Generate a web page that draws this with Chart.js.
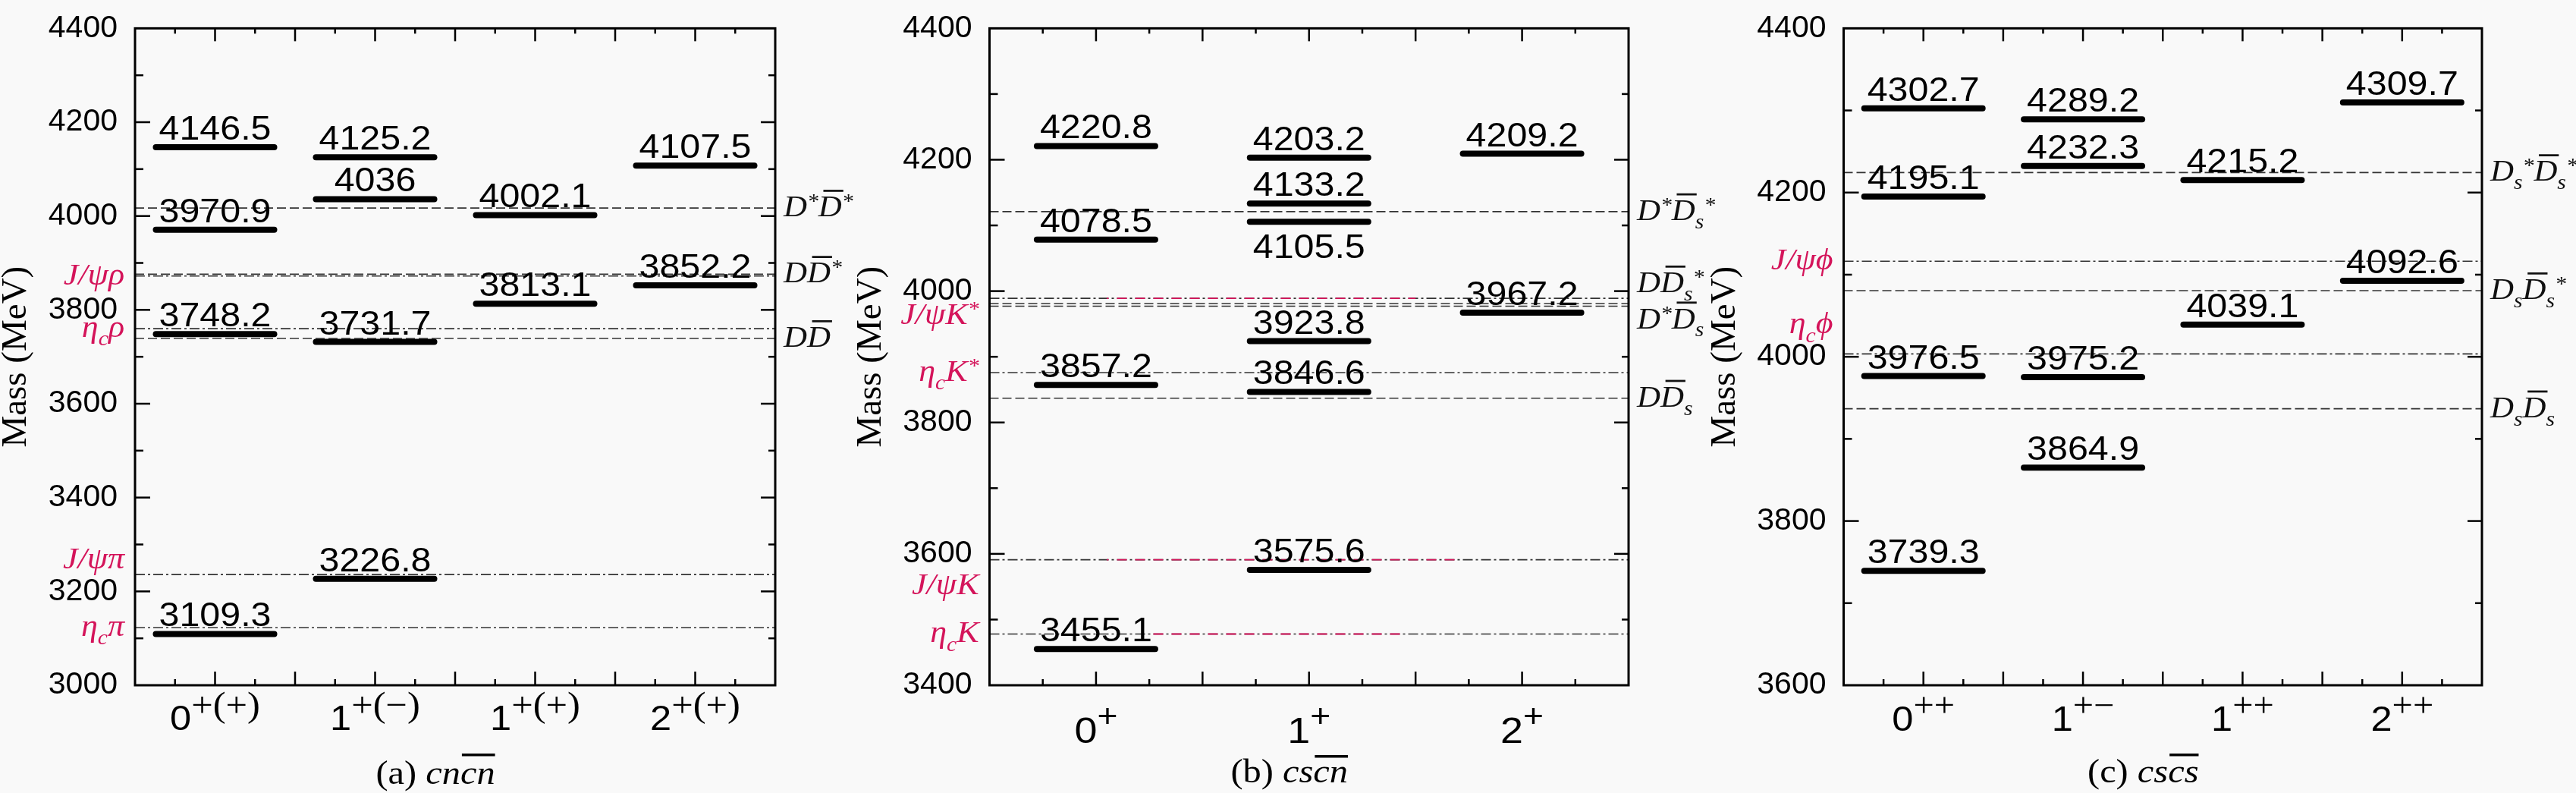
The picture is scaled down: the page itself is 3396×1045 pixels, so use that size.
<!DOCTYPE html>
<html><head><meta charset="utf-8">
<script src="https://cdn.jsdelivr.net/npm/chart.js@4.4.0/dist/chart.umd.min.js"></script>
<style>
html,body{margin:0;padding:0;background:#f9f9f9;}
#wrap{position:relative;width:3396px;height:1045px;overflow:hidden;background:#f9f9f9;}
.pan{position:absolute;top:0;height:1045px;}
canvas{display:block;}
</style></head><body><div id="wrap">
<div class="pan" style="left:0px;width:1165px"><canvas id="cA" width="1165" height="1045"></canvas></div>
<div class="pan" style="left:1130px;width:1165px"><canvas id="cB" width="1165" height="1045"></canvas></div>
<div class="pan" style="left:2250px;width:1146px"><canvas id="cC" width="1146" height="1045"></canvas></div>
</div>
<script>
// ---------------- DATA ----------------
// Panel (a) c n c̄ n̄
const catsA   = ['0', '1', '1', '2'];
const catSupA = ['+(+)', '+(\u2212)', '+(+)', '+(+)'];
const massA = [
  [3109.3, 3748.2, 3970.9, 4146.5],
  [3226.8, 3731.7, 4036, 4125.2],
  [3813.1, 4002.1],
  [3852.2, 4107.5]
];
const thrNameA = ['D|^*|~D|^*', 'D|~D|^*', 'D|~D', 'J/\u03C8\u03C1', '\u03B7|_c|\u03C1', 'J/\u03C8\u03C0', '\u03B7|_c|\u03C0'];
const thrMassA = [4017, 3876, 3739, 3872, 3760, 3236, 3123];
const yRangeA  = [3000, 4400];

// Panel (b) c s c̄ n̄
const catsB   = ['0', '1', '2'];
const catSupB = ['+', '+', '+'];
const massB = [
  [3455.1, 3857.2, 4078.5, 4220.8],
  [3575.6, 3846.6, 3923.8, 4105.5, 4133.2, 4203.2],
  [3967.2, 4209.2]
];
const thrNameB = ['D|^*|~D|_s|^*', 'D|~D|_s|^*', 'D|^*|~D|_s', 'D|~D|_s', 'J/\u03C8K|^*', '\u03B7|_c|K|^*', 'J/\u03C8K', '\u03B7|_c|K'];
const thrMassB = [4121, 3981, 3977, 3837, 3989, 3876, 3591, 3478];
const yRangeB  = [3400, 4400];
const labelBelowB = [4105.5];

// Panel (c) c s c̄ s̄
const catsC   = ['0', '1', '1', '2'];
const catSupC = ['++', '+\u2212', '++', '++'];
const massC = [
  [3739.3, 3976.5, 4195.1, 4302.7],
  [3864.9, 3975.2, 4232.3, 4289.2],
  [4039.1, 4215.2],
  [4092.6, 4309.7]
];
const thrNameC = ['D|_s|^*|~D|_s|^*', 'D|_s|~D|_s|^*', 'D|_s|~D|_s', 'J/\u03C8\u03D5', '\u03B7|_c|\u03D5'];
const thrMassC = [4224.4, 4080.5, 3936.7, 4116.4, 4003.5];
const yRangeC  = [3600, 4400];

// ---------------- STYLE / LAYOUT ----------------
const SANS  = '"Liberation Sans", Arial, Helvetica, sans-serif';
const SERIF = '"Liberation Serif", "Times New Roman", Times, serif';
const SX = 1.1;           // horizontal stretch of text in the reference
const RED = '#d4145a';
const TOP = 16, BOTTOM = 903, H = 1045;

const panels = [
  { id:'cA', W:1165, L:178,   R:1022, xMax:8, cats:catsA, sups:catSupA, mass:massA,
    thrName:thrNameA, thrMass:thrMassA, yr:yRangeA, below:[],
    side:['R','R','R','L','L','L','L'], dash:['d','d','d','dd','dd','dd','dd'], dy:[0,0,0,0,0,-19,0],
    red:[], catMainF:46, catSupFam:SERIF, catSupF:46, catRaise:18, catBase:962,
    cap:['(a) ', 'cn', 'cn'], capBase:1033, capBar:993 },
  { id:'cB', W:1165, L:174.5, R:1017, xMax:6, cats:catsB, sups:catSupB, mass:massB,
    thrName:thrNameB, thrMass:thrMassB, yr:yRangeB, below:labelBelowB,
    side:['R','R','R','R','L','L','L','L'], dash:['d','d','d','d','dd','dd','dd','dd'], dy:[0,-26,18,0,23,0,34,0],
    red:[[4,1.1,4.0],[6,1.1,4.4],[7,1.5,3.9]], catMainF:49, catSupFam:SANS, catSupF:42, catRaise:21, catBase:979,
    cap:['(b) ', 'cs', 'cn'], capBase:1031, capBar:995 },
  { id:'cC', W:1146, L:180.5, R:1022, xMax:8, cats:catsC, sups:catSupC, mass:massC,
    thrName:thrNameC, thrMass:thrMassC, yr:yRangeC, below:[],
    side:['R','R','R','L','L'], dash:['d','d','d','dd','dd'], dy:[0,0,0,0,-38],
    red:[], catMainF:46, catSupFam:SERIF, catSupF:44, catRaise:19, catBase:963,
    cap:['(c) ', 'cs', 'cs'], capBase:1031, capBar:993 }
];

const DASH = [12, 5];
const DASHDOT = [13, 4, 3, 4];
const LEVEL_HALF_PX = 78;

// ---------------- TEXT HELPERS ----------------
function txt(ctx, s, x, y, font, color, align) {
  ctx.save();
  ctx.font = font; ctx.fillStyle = color; ctx.textBaseline = 'alphabetic'; ctx.textAlign = 'left';
  const w = ctx.measureText(s).width * SX;
  const x0 = align === 'center' ? x - w / 2 : (align === 'right' ? x - w : x);
  ctx.translate(x0, y); ctx.scale(SX, 1); ctx.fillText(s, 0, 0);
  ctx.restore();
  return w;
}
function parseRich(s) {
  return s.split('|').map(p => {
    if (p[0] === '^') return { t: p.slice(1), k: 'sup' };
    if (p[0] === '_') return { t: p.slice(1), k: 'sub' };
    if (p[0] === '~') return { t: p.slice(1), k: 'bar' };
    return { t: p, k: 'n' };
  });
}
function drawRich(ctx, str, x, y, F, color, align) {
  const segs = parseRich(str);
  ctx.save();
  ctx.textBaseline = 'alphabetic'; ctx.textAlign = 'left';
  const fontFor = k => (k === 'sup' || k === 'sub') ? `italic ${Math.round(F * 0.68)}px ${SERIF}` : `italic ${F}px ${SERIF}`;
  let w = 0;
  segs.forEach(s => { ctx.font = fontFor(s.k); s.w = ctx.measureText(s.t).width * SX; w += s.w; });
  let cx = align === 'right' ? x - w : x;
  ctx.fillStyle = color;
  segs.forEach(s => {
    ctx.font = fontFor(s.k);
    const d = s.k === 'sup' ? -0.28 * F : (s.k === 'sub' ? 0.28 * F : 0);
    ctx.save(); ctx.translate(cx, y + d); ctx.scale(SX, 1); ctx.fillText(s.t, 0, 0); ctx.restore();
    if (s.k === 'bar') ctx.fillRect(cx + 0.17 * F, y - 0.9 * F, s.w - 0.12 * F, Math.max(2.5, 0.07 * F));
    cx += s.w;
  });
  ctx.restore();
}

// ---------------- CHARTS ----------------
panels.forEach(P => {
  const unitPx = (P.R - P.L) / P.xMax;
  const hw = LEVEL_HALF_PX / unitPx;
  const datasets = [];
  P.mass.forEach((arr, ci) => {
    const c = 2 * ci + 1;
    arr.forEach(m => datasets.push({
      data: [{ x: c - hw, y: m }, { x: c + hw, y: m }], borderColor: '#000', borderWidth: 8,
      borderCapStyle: 'round', pointRadius: 0, order: 0, fill: false
    }));
  });
  P.red.forEach(([ti, a, b]) => {
    const start = a * unitPx;
    datasets.push({
      data: [{ x: a, y: P.thrMass[ti] }, { x: b, y: P.thrMass[ti] }], borderColor: RED, borderWidth: 1.8,
      borderDash: [13, 11], borderDashOffset: start % 24, pointRadius: 0, order: 1, fill: false
    });
  });
  P.thrMass.forEach((m, i) => datasets.push({
    data: [{ x: 0, y: m }, { x: P.xMax, y: m }], borderColor: '#333', borderWidth: 1.6,
    borderDash: P.dash[i] === 'd' ? DASH : DASHDOT, pointRadius: 0, order: 2, fill: false
  }));

  const deco = {
    id: 'deco' + P.id,
    afterDraw(chart) {
      const ctx = chart.ctx, ca = chart.chartArea, xs = chart.scales.x, ys = chart.scales.y;
      ctx.save();
      // frame
      ctx.strokeStyle = '#000'; ctx.lineWidth = 3;
      ctx.strokeRect(ca.left, ca.top, ca.right - ca.left, ca.bottom - ca.top);
      // inward ticks
      ctx.lineWidth = 2.5;
      const ln = (x1, y1, x2, y2) => { ctx.beginPath(); ctx.moveTo(x1, y1); ctx.lineTo(x2, y2); ctx.stroke(); };
      for (let v = P.yr[0] + 100; v < P.yr[1]; v += 100) {
        const major = ((v - P.yr[0]) % 200) === 0;
        const py = ys.getPixelForValue(v);
        ln(ca.left, py, ca.left + (major ? 20 : 11), py);
        ln(ca.right, py, ca.right - (major ? 19 : 9), py);
      }
      for (let u = 0.5; u < P.xMax; u += 0.5) {
        const major = Math.abs(u - Math.round(u)) < 1e-6;
        const px = xs.getPixelForValue(u);
        ln(px, ca.bottom, px, ca.bottom - (major ? 18 : 8));
        ln(px, ca.top, px, ca.top + (major ? 17 : 7));
      }
      // level values
      P.mass.forEach((arr, ci) => {
        const px = xs.getPixelForValue(2 * ci + 1);
        arr.forEach(m => {
          const py = ys.getPixelForValue(m);
          const below = P.below.includes(m);
          txt(ctx, String(m), px, below ? py + 48 : py - 10, `44px ${SANS}`, '#000', 'center');
        });
      });
      // threshold labels
      P.thrMass.forEach((m, i) => {
        const py = ys.getPixelForValue(m) + 11 + P.dy[i];
        if (P.side[i] === 'R') drawRich(ctx, P.thrName[i], ca.right + 11, py, 39, '#111', 'left');
        else drawRich(ctx, P.thrName[i], ca.left - 14, py, 40, RED, 'right');
      });
      // category labels
      P.cats.forEach((c, ci) => {
        const px = xs.getPixelForValue(2 * ci + 1);
        ctx.font = `${P.catMainF}px ${SANS}`;
        const w1 = ctx.measureText(c).width * SX;
        ctx.font = `${P.catSupF}px ${P.catSupFam}`;
        const w2 = ctx.measureText(P.sups[ci]).width * SX;
        const x0 = px - (w1 + w2) / 2;
        txt(ctx, c, x0, P.catBase, `${P.catMainF}px ${SANS}`, '#000', 'left');
        txt(ctx, P.sups[ci], x0 + w1, P.catBase - P.catRaise, `${P.catSupF}px ${P.catSupFam}`, '#000', 'left');
      });
      // caption
      const capF = 44;
      ctx.font = `${capF}px ${SERIF}`;
      const cw0 = ctx.measureText(P.cap[0]).width * SX;
      ctx.font = `italic ${capF}px ${SERIF}`;
      const cw1 = ctx.measureText(P.cap[1]).width * SX;
      const cw2 = ctx.measureText(P.cap[2]).width * SX;
      const cx0 = (ca.left + ca.right) / 2 - 26 - (cw0 + cw1 + cw2) / 2;
      txt(ctx, P.cap[0], cx0, P.capBase, `${capF}px ${SERIF}`, '#000', 'left');
      txt(ctx, P.cap[1], cx0 + cw0, P.capBase, `italic ${capF}px ${SERIF}`, '#000', 'left');
      txt(ctx, P.cap[2], cx0 + cw0 + cw1, P.capBase, `italic ${capF}px ${SERIF}`, '#000', 'left');
      ctx.fillStyle = '#000';
      ctx.fillRect(cx0 + cw0 + cw1 + 2, P.capBar, cw2 - 2, 3.5);
      // y-axis title
      ctx.save();
      ctx.translate(ca.left - 156, (ca.top + ca.bottom) / 2);
      ctx.rotate(-Math.PI / 2);
      ctx.font = `47px ${SERIF}`; ctx.fillStyle = '#000'; ctx.textAlign = 'center'; ctx.textBaseline = 'middle';
      ctx.fillText('Mass (MeV)', 0, 0);
      ctx.restore();
      ctx.restore();
    }
  };

  new Chart(document.getElementById(P.id), {
    type: 'line',
    data: { datasets },
    options: {
      responsive: false, animation: false, devicePixelRatio: 1,
      layout: { padding: { left: 0, right: P.W - P.R, top: TOP, bottom: H - BOTTOM } },
      plugins: { legend: { display: false }, tooltip: { enabled: false } },
      elements: { line: { tension: 0 } },
      scales: {
        x: { type: 'linear', min: 0, max: P.xMax, grid: { display: false, drawTicks: false },
             border: { display: false }, ticks: { display: false }, afterFit: s => { s.height = 0; } },
        y: { type: 'linear', min: P.yr[0], max: P.yr[1], grid: { display: false, drawTicks: false },
             border: { display: false },
             ticks: { stepSize: 200, padding: 23, color: '#000', autoSkip: false,
                      callback: v => String(v),
                      font: { family: SANS, size: 41, lineHeight: 0.7 } },
             afterFit: s => { s.width = P.L; } }
      }
    },
    plugins: [deco]
  });
});
</script>
</body></html>
